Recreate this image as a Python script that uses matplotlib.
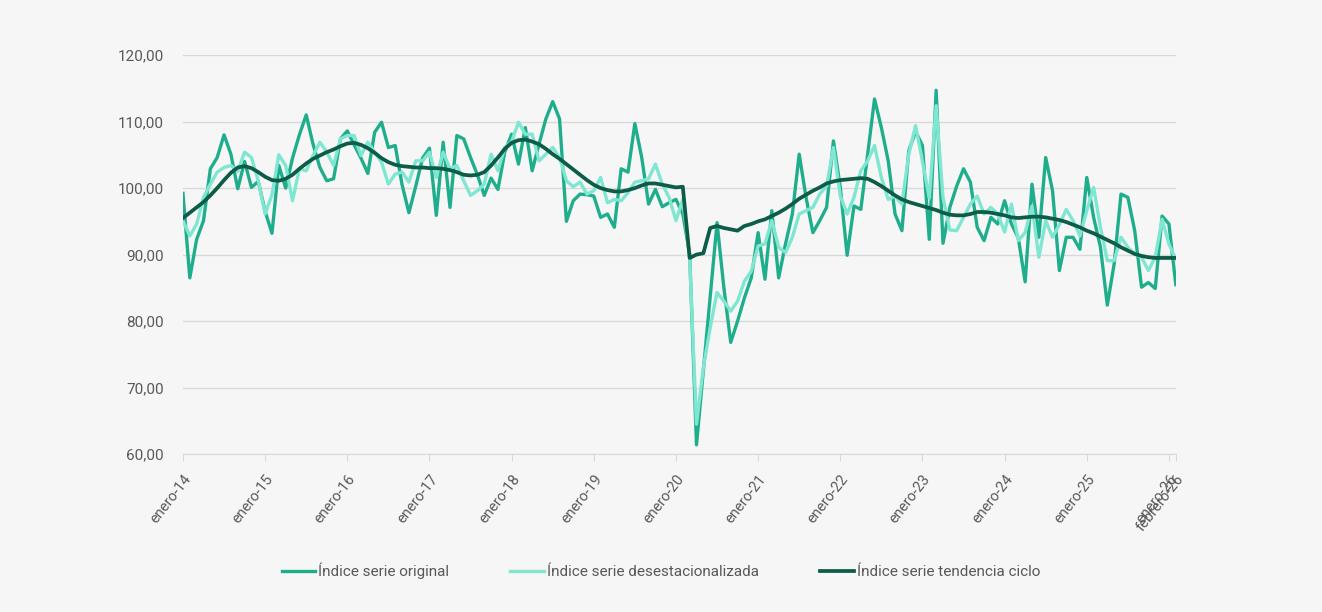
import matplotlib.pyplot as plt

# --- datos (enero-14 .. febrero-26, mensual) ---
serie_original = [
    99.2, 86.5, 92.3, 95.1, 102.9, 104.6, 108.0, 105.1, 99.9, 104.0, 100.1, 101.0,
    96.5, 93.2, 103.4, 100.0, 104.5, 108.0, 111.0, 106.6, 103.1, 101.1, 101.4, 107.4,
    108.6, 106.5, 104.5, 102.2, 108.4, 109.9, 106.1, 106.4, 100.5, 96.3, 100.3, 104.5,
    106.0, 95.9, 106.9, 97.1, 107.9, 107.4, 104.6, 102.0, 98.9, 101.5, 99.8, 105.4,
    108.1, 103.6, 109.1, 102.6, 106.6, 110.4, 113.0, 110.4, 95.0, 98.1, 99.1, 99.0,
    98.8, 95.6, 96.1, 94.1, 102.9, 102.4, 109.7, 104.6, 97.6, 99.8, 97.2, 97.8,
    98.3, 96.1, 90.1, 61.4, 72.5, 83.5, 94.8, 85.0, 76.8, 80.0, 83.5, 86.5,
    93.3, 86.3, 96.6, 86.5, 91.6, 96.1, 105.1, 98.6, 93.3, 95.1, 97.1, 107.1,
    100.1, 89.9, 97.3, 96.8, 105.1, 113.4, 109.1, 104.1, 96.1, 93.6, 105.6, 108.5,
    106.4, 92.3, 114.7, 91.7, 97.1, 100.3, 102.9, 100.9, 94.1, 92.1, 95.6, 94.6,
    98.1, 94.6, 92.5, 85.9, 100.6, 92.6, 104.6, 99.6, 87.6, 92.6, 92.6, 90.8,
    101.6, 95.6, 91.1, 82.4, 88.6, 99.1, 98.6, 93.6, 85.1, 85.8, 84.9, 95.8,
    94.6, 85.5,
]

serie_desest = [
    95.1, 92.8, 94.6, 98.6, 100.6, 102.4, 103.1, 103.4, 102.5, 105.4, 104.6, 101.1,
    96.1, 99.0, 105.0, 103.4, 98.1, 102.9, 102.6, 104.9, 106.9, 105.4, 103.4, 107.4,
    107.9, 107.9, 104.9, 106.9, 105.4, 103.9, 100.6, 102.1, 102.4, 100.9, 104.1, 104.1,
    105.4, 101.6, 105.4, 102.9, 103.4, 101.1, 98.9, 99.6, 100.6, 105.1, 102.6, 106.1,
    107.0, 109.9, 108.1, 108.1, 104.1, 105.1, 106.1, 104.6, 101.1, 100.2, 100.9, 99.1,
    99.6, 101.6, 97.8, 98.3, 98.1, 99.3, 100.9, 101.1, 101.4, 103.6, 100.6, 98.6,
    95.1, 98.3, 89.6, 64.5, 73.0, 79.0, 84.3, 83.0, 81.5, 83.0, 86.0, 87.5,
    91.3, 91.6, 95.1, 91.1, 90.3, 92.6, 96.1, 96.6, 97.1, 99.1, 100.3, 106.1,
    98.8, 96.1, 98.6, 102.6, 104.1, 106.4, 101.6, 98.3, 98.8, 97.6, 105.1, 109.4,
    104.0, 98.5, 112.4, 98.6, 93.7, 93.6, 95.6, 97.6, 98.8, 96.1, 97.1, 96.1,
    93.4, 97.6, 92.1, 93.3, 97.3, 89.6, 95.1, 92.6, 94.5, 96.8, 95.1, 92.8,
    96.6, 100.1, 94.1, 89.1, 89.1, 92.6, 91.1, 90.1, 89.6, 87.6, 89.6, 95.3,
    91.6, 89.3,
]

serie_tendencia = [
    95.5, 96.3, 97.1, 97.9, 98.9, 100.0, 101.2, 102.3, 103.1, 103.3, 103.0, 102.4,
    101.7, 101.2, 101.1, 101.4, 102.0, 102.9, 103.7, 104.4, 104.9, 105.4, 105.8, 106.3,
    106.7, 106.8, 106.5, 106.0, 105.3, 104.5, 103.9, 103.5, 103.3, 103.2, 103.1, 103.1,
    103.0, 103.0, 102.9, 102.7, 102.4, 102.0, 101.9, 102.0, 102.4, 103.4, 104.6, 105.9,
    106.8, 107.2, 107.3, 107.0, 106.6, 105.9, 105.1, 104.4, 103.6, 102.8, 102.0, 101.2,
    100.5, 100.0, 99.7, 99.5, 99.5, 99.7, 100.0, 100.4, 100.7, 100.7, 100.5, 100.3,
    100.1, 100.2, 89.5, 90.0, 90.2, 94.0, 94.3, 94.0, 93.8, 93.6, 94.3, 94.6,
    95.0, 95.3, 95.8, 96.3, 96.9, 97.6, 98.4, 99.0, 99.6, 100.1, 100.7, 101.0,
    101.2, 101.3, 101.4, 101.5, 101.4, 100.9, 100.3, 99.6, 98.9, 98.3, 97.9, 97.6,
    97.3, 97.0, 96.7, 96.3, 96.0, 95.9, 95.9, 96.1, 96.4, 96.4, 96.3, 96.1,
    95.9, 95.6, 95.5, 95.6, 95.7, 95.7, 95.6, 95.4, 95.2, 94.9, 94.5, 94.1,
    93.6, 93.2, 92.7, 92.2, 91.7, 91.1, 90.6, 90.1, 89.8, 89.6, 89.5, 89.5,
    89.5, 89.5,
]

etiquetas_x = ["enero-14", "enero-15", "enero-16", "enero-17", "enero-18", "enero-19",
               "enero-20", "enero-21", "enero-22", "enero-23", "enero-24", "enero-25",
               "enero-26", "febrero-26"]
pos_x = [0, 12, 24, 36, 48, 60, 72, 84, 96, 108, 120, 132, 144, 145]
ticks_y = [60, 70, 80, 90, 100, 110, 120]

plt.rcParams['font.family'] = ['Roboto', 'DejaVu Sans']

fondo = "#f6f6f6"
gris_texto = "#595959"
fig = plt.figure(figsize=(13.22, 6.12), dpi=100, facecolor=fondo)
ax = fig.add_axes([0.1384, 0.258, 0.751, 0.652], facecolor=fondo)

meses = list(range(len(serie_original)))
ax.plot(meses, serie_original, color="#1fae8c", linewidth=2.4, label="Índice serie original", zorder=3)
ax.plot(meses, serie_desest, color="#7fe6d2", linewidth=2.4, label="Índice serie desestacionalizada", zorder=4)
ax.plot(meses, serie_tendencia, color="#0c5c48", linewidth=2.7, label="Índice serie tendencia ciclo", zorder=5)

ax.set_xlim(0, 145)
ax.set_ylim(60, 120)
ax.set_yticks(ticks_y)
ax.set_yticklabels([f"{v:.2f}".replace(".", ",") for v in ticks_y], fontsize=11, color=gris_texto)
ax.set_xticks(pos_x)
ax.set_xticklabels(etiquetas_x, rotation=52, ha="right", rotation_mode="anchor",
                   fontsize=10.5, color=gris_texto)

ax.grid(axis="y", color="#d9d9d9", linewidth=1)
ax.set_axisbelow(True)
for lado in ["top", "right", "left"]:
    ax.spines[lado].set_visible(False)
ax.spines["bottom"].set_color("#d9d9d9")
ax.tick_params(axis="y", length=0, pad=14)
ax.tick_params(axis="x", length=5, color="#d9d9d9", pad=8)

fig.legend(loc="center", bbox_to_anchor=(0.5, 0.067), ncol=3, frameon=False,
           fontsize=11, labelcolor=gris_texto, handlelength=2.2, handletextpad=0.2,
           columnspacing=4.0)

fig.savefig("out.png", dpi=100, facecolor=fondo)
